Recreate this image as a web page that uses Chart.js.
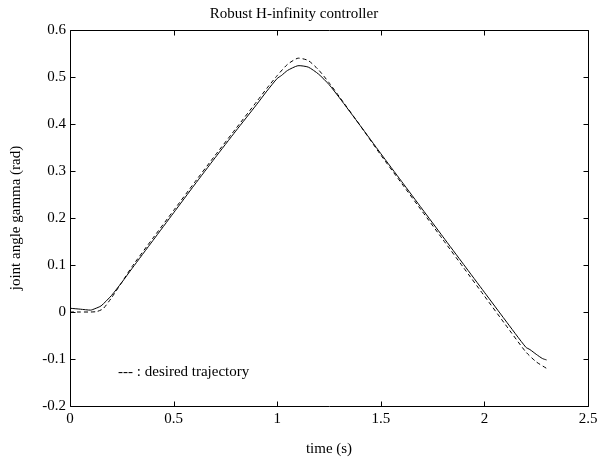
<!DOCTYPE html>
<html>
<head>
<meta charset="utf-8">
<script src="https://cdn.jsdelivr.net/npm/chart.js@4.4.0/dist/chart.umd.min.js"></script>
<style>
  html, body { margin: 0; padding: 0; background: #fff; }
  #wrap { width: 597px; height: 459px; }
</style>
</head>
<body>
<div id="wrap"><canvas id="c" width="597" height="459"></canvas></div>
<script>
const chartTitle = 'Robust H-infinity controller';
const xTitle = 'time (s)';
const yTitle = 'joint angle gamma (rad)';
const noteText = '--- : desired trajectory';
const noteAt = [0.232, -0.128];

const xTicks = [0, 0.5, 1, 1.5, 2, 2.5];
const yTicks = [-0.2, -0.1, 0, 0.1, 0.2, 0.3, 0.4, 0.5, 0.6];

const desiredT = [0, 0.05, 0.1, 0.13, 0.16, 0.2, 0.25, 0.3, 0.4, 0.5, 0.6, 0.7, 0.8, 0.9, 0.95, 1.0, 1.05, 1.1, 1.15, 1.2, 1.25, 1.3, 1.4, 1.5, 1.6, 1.7, 1.8, 1.9, 2.0, 2.1, 2.2, 2.25, 2.3];
const desiredV = [0, 0, 0, 0.001, 0.007, 0.030, 0.063, 0.097, 0.157, 0.216, 0.275, 0.333, 0.390, 0.447, 0.476, 0.503, 0.527, 0.540, 0.535, 0.515, 0.488, 0.458, 0.397, 0.334, 0.274, 0.214, 0.154, 0.094, 0.034, -0.026, -0.085, -0.106, -0.120];

const actualT = [0, 0.05, 0.1, 0.12, 0.15, 0.2, 0.25, 0.3, 0.4, 0.5, 0.6, 0.7, 0.8, 0.9, 0.95, 1.0, 1.02, 1.05, 1.1, 1.15, 1.2, 1.25, 1.3, 1.4, 1.5, 1.6, 1.7, 1.8, 1.9, 2.0, 2.1, 2.2, 2.22, 2.25, 2.28, 2.3];
const actualV = [0.008, 0.006, 0.004, 0.007, 0.013, 0.035, 0.063, 0.093, 0.152, 0.211, 0.270, 0.328, 0.385, 0.441, 0.470, 0.497, 0.503, 0.514, 0.524, 0.521, 0.506, 0.484, 0.456, 0.397, 0.337, 0.278, 0.219, 0.160, 0.101, 0.042, -0.017, -0.075, -0.080, -0.090, -0.099, -0.102];

const FONT = 'Liberation Serif, Times New Roman, serif';

const toXY = (ts, vs) => ts.map((t, i) => ({ x: t, y: vs[i] }));

const boxPlugin = {
  id: 'box',
  afterDraw(chart) {
    const ctx = chart.ctx;
    const a = chart.chartArea;
    const xs = chart.scales.x, ys = chart.scales.y;
    const L = Math.round(a.left) + 0.5, R = Math.round(a.right) + 0.5;
    const T = Math.round(a.top) + 0.5, B = Math.round(a.bottom) + 0.5;
    ctx.save();
    ctx.strokeStyle = '#000';
    ctx.lineWidth = 1;
    ctx.beginPath();
    ctx.rect(L, T, R - L, B - T);
    const tl = 5;
    xTicks.forEach(v => {
      const px = Math.round(xs.getPixelForValue(v)) + 0.5;
      ctx.moveTo(px, B); ctx.lineTo(px, B - tl);
      ctx.moveTo(px, T); ctx.lineTo(px, T + tl);
    });
    yTicks.forEach(v => {
      const py = Math.round(ys.getPixelForValue(v)) + 0.5;
      ctx.moveTo(L, py); ctx.lineTo(L + tl, py);
      ctx.moveTo(R, py); ctx.lineTo(R - tl, py);
    });
    ctx.stroke();
    ctx.fillStyle = '#000';
    ctx.font = '15px ' + FONT;
    ctx.textAlign = 'left';
    ctx.textBaseline = 'middle';
    ctx.fillText(noteText, xs.getPixelForValue(noteAt[0]), ys.getPixelForValue(noteAt[1]));
    ctx.restore();
  }
};

new Chart(document.getElementById('c'), {
  type: 'line',
  data: {
    datasets: [
      {
        label: 'actual',
        data: toXY(actualT, actualV),
        borderColor: '#000',
        borderWidth: 1,
        pointRadius: 0,
        tension: 0.2,
        fill: false
      },
      {
        label: 'desired trajectory',
        data: toXY(desiredT, desiredV),
        borderColor: '#000',
        borderWidth: 1,
        borderDash: [4, 3],
        pointRadius: 0,
        tension: 0.2,
        fill: false
      }
    ]
  },
  plugins: [boxPlugin],
  options: {
    responsive: false,
    animation: false,
    devicePixelRatio: 1,
    layout: { padding: { top: 0, right: 9, left: 0, bottom: 0 } },
    plugins: {
      legend: { display: false },
      tooltip: { enabled: false },
      title: {
        display: true,
        text: chartTitle,
        color: '#000',
        font: { family: FONT, size: 15, weight: 'normal' },
        padding: { top: 5, bottom: 7 }
      }
    },
    scales: {
      x: {
        type: 'linear',
        min: 0, max: 2.5,
        afterBuildTicks: s => { s.ticks = xTicks.map(v => ({ value: v })); },
        afterFit: s => { s.height = 53; s.paddingRight = 0; s.paddingLeft = 0; },
        grid: { display: false, drawTicks: false },
        border: { display: false },
        ticks: {
          color: '#000', padding: 4, maxRotation: 0,
          font: { family: FONT, size: 15 },
          callback: v => String(v)
        },
        title: {
          display: true, text: xTitle, color: '#000',
          font: { family: FONT, size: 15 },
          padding: { top: 0, bottom: 1 }
        }
      },
      y: {
        type: 'linear',
        min: -0.2, max: 0.6,
        afterBuildTicks: s => { s.ticks = yTicks.map(v => ({ value: v })); },
        afterFit: s => { s.width = 70; },
        grid: { display: false, drawTicks: false },
        border: { display: false },
        ticks: {
          color: '#000', padding: 4,
          font: { family: FONT, size: 15 },
          callback: v => String(Number(v.toFixed(1)))
        },
        title: {
          display: true, text: yTitle, color: '#000',
          font: { family: FONT, size: 15 },
          padding: { top: 7, bottom: 0 }
        }
      }
    }
  }
});
</script>
</body>
</html>
